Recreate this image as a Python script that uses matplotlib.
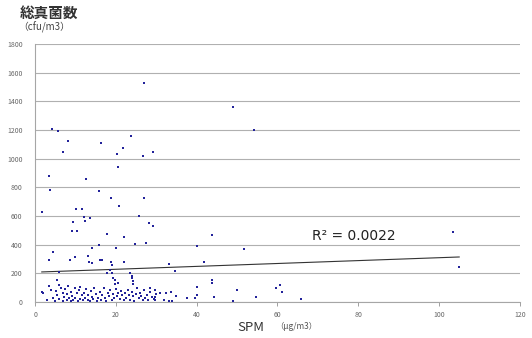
import numpy as np
import matplotlib.pyplot as plt

plt.rcParams['font.family'] = ['Noto Sans CJK JP', 'DejaVu Sans']

# scattered upper points (SPM, fungi)
spm_hi = [27.0, 49.0, 54.2, 4.1, 5.6, 8.2, 6.8, 23.7, 16.3, 21.7, 20.2, 26.6, 29.3,
          20.6, 3.5, 12.6, 3.7, 15.8, 18.7, 27.0, 20.8, 1.7, 10.1, 11.7, 12.0, 13.6,
          25.8, 12.4, 9.5, 9.1, 10.3, 28.3, 29.3, 17.7, 21.9, 4.4, 3.5, 14.0, 15.7,
          20.0, 24.8, 27.5, 8.7, 9.9, 13.2, 13.4, 14.0, 16.5, 18.8, 21.9, 5.8, 18.6,
          17.9, 19.0, 23.5, 23.9, 24.3, 19.8, 20.4, 5.4, 6.0, 43.7, 40.2, 51.8, 41.7,
          33.2, 34.7, 43.7, 43.7, 40.2, 50.1, 59.7, 60.6, 29.7, 103.4, 105.0, 61.2,
          19.2, 23.9, 16.1, 19.0, 21.9]
fungi_hi = [1528, 1360, 1200, 1207, 1193, 1123, 1049, 1158, 1107, 1077, 1030, 1019, 1047,
            944, 879, 858, 781, 777, 723, 728, 667, 626, 649, 647, 595, 588,
            600, 567, 560, 495, 497, 549, 532, 474, 456, 351, 293, 379, 398,
            374, 402, 414, 293, 316, 321, 281, 270, 293, 281, 277, 211, 223,
            204, 200, 200, 165, 142, 153, 130, 153, 119, 467, 391, 370, 281,
            263, 218, 153, 130, 102, 84, 95, 119, 84, 486, 242, 72,
            163, 179, 295, 260, 279]

# dense low cluster
spm_lo = [2.0, 3.0, 3.5, 4.0, 4.5, 5.0, 5.2, 5.5, 6.0, 6.3, 6.8, 7.0, 7.2, 7.5, 7.8,
          8.0, 8.2, 8.5, 8.8, 9.0, 9.2, 9.5, 9.8, 10.0, 10.3, 10.5, 10.8, 11.0, 11.2,
          11.5, 11.8, 12.0, 12.3, 12.6, 13.0, 13.2, 13.5, 13.8, 14.0, 14.3, 14.6, 15.0,
          15.3, 15.6, 16.0, 16.3, 16.6, 17.0, 17.3, 17.6, 18.0, 18.3, 18.6, 19.0, 19.3,
          19.6, 20.0, 20.3, 20.6, 21.0, 21.3, 21.6, 22.0, 22.3, 22.6, 23.0, 23.3, 23.6,
          24.0, 24.3, 24.6, 25.0, 25.3, 25.6, 26.0, 26.3, 26.6, 27.0, 27.3, 27.6, 28.0,
          28.5, 29.0, 29.5, 30.0, 31.0, 32.0, 29.7, 29.7, 32.3, 33.7, 34.9, 33.2, 34.0,
          37.5, 39.6, 40.0, 44.4, 49.1, 54.7, 28.5, 65.8, 1.65, 24.3, 19.8]
fungi_lo = [60, 10, 110, 85, 30, 5, 75, 45, 20, 100, 60, 8, 35, 90, 15,
            55, 110, 25, 5, 70, 40, 12, 95, 30, 60, 3, 80, 20, 105,
            45, 10, 65, 28, 90, 15, 50, 5, 75, 35, 18, 100, 55,
            8, 30, 70, 15, 45, 95, 25, 5, 60, 38, 80, 12, 52,
            28, 90, 40, 65, 18, 75, 45, 10, 60, 30, 85, 50, 15,
            70, 38, 5, 55, 100, 25, 65, 40, 12, 80, 30, 50, 10,
            68, 35, 20, 55, 65, 15, 37, 14, 60, 68, 42, 9, 9,
            26, 26, 49, 33, 9, 37, 98, 21, 70, 121, 126]

trend_slope = 1.01
trend_intercept = 207
trend_range = [1.65, 105.0]
r2_text = "R² = 0.0022"

fig = plt.figure(figsize=(5.32, 3.38), dpi=100)
ax = fig.add_axes([0.066, 0.107, 0.911, 0.763])

x = np.array(spm_hi + spm_lo)
y = np.array(fungi_hi + fungi_lo)
ax.scatter(x, y, s=4, marker='s', color='#22229a', linewidths=0, zorder=3)

tx = np.array(trend_range)
ax.plot(tx, trend_intercept + trend_slope * tx, color='#333333', lw=0.8, zorder=2)
ax.text(68.5, 430, r2_text, fontsize=10, color='#222222', family=['DejaVu Sans'])

ax.set_xlim(0, 120)
ax.set_ylim(0, 1800)
ax.set_xticks(range(0, 121, 20))
ax.set_yticks(range(0, 1801, 200))
ax.yaxis.grid(True, color='#b0b0b0', lw=0.8)
ax.set_axisbelow(True)
for s in ['top', 'right']:
    ax.spines[s].set_visible(False)
for s in ['left', 'bottom']:
    ax.spines[s].set_color('#a6a6a6')
ax.tick_params(axis='both', labelsize=5, colors='#909090', length=3, width=0.6,
               labelcolor='#666666')
ax.tick_params(axis='y', length=0, pad=9)

fig.text(0.038, 0.985, "総真菌数", fontsize=10.5, color='#333333', fontweight='bold', va='top')
fig.text(0.035, 0.935, "（cfu/m3）", fontsize=7, color='#444444', va='top')
fig.text(0.447, 0.022, "SPM", fontsize=9.5, color='#333333')
fig.text(0.518, 0.028, "（μg/m3）", fontsize=6, color='#555555')

fig.savefig("out.png", dpi=100)
